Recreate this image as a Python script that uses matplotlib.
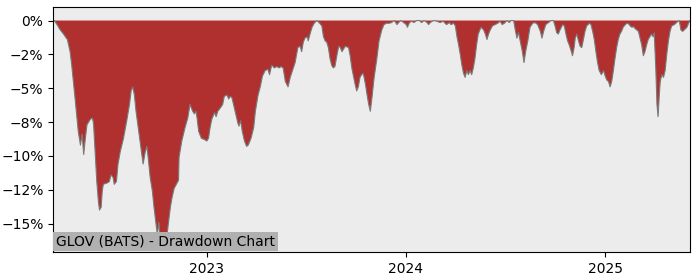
import matplotlib
matplotlib.use('Agg')
import matplotlib.pyplot as plt
import matplotlib.dates as mdates
from matplotlib.ticker import FuncFormatter
import numpy as np

# drawdown series (days since start, percent)
start = np.datetime64('2022-03-25')
days = [0, 2, 7, 13, 19, 24, 26, 31, 34, 40, 46, 50, 53, 56, 59, 62, 68, 72, 74, 77,
        80, 83, 85, 88, 90, 92, 99, 103, 106, 110, 112, 116, 119, 123, 129, 135, 140, 143, 146, 149,
        152, 157, 161, 165, 169, 172, 175, 178, 182, 185, 189, 191, 194, 196, 199, 202, 206, 209, 212, 215,
        218, 222, 226, 230, 231, 236, 242, 247, 251, 256, 259, 262, 264, 267, 272, 278, 282, 285, 288, 291,
        296, 299, 302, 306, 311, 314, 319, 322, 325, 328, 331, 335, 339, 341, 344, 347, 351, 355, 358, 363,
        368, 371, 376, 380, 384, 389, 394, 397, 401, 406, 410, 415, 418, 422, 426, 431, 435, 439, 444, 449,
        453, 456, 459, 462, 466, 468, 472, 475, 479, 484, 489, 493, 496, 499, 502, 505, 508, 511, 514, 517,
        521, 524, 527, 530, 533, 536, 542, 545, 548, 551, 554, 557, 560, 563, 566, 569, 573, 576, 579, 582,
        585, 589, 594, 598, 603, 607, 612, 617, 621, 626, 631, 634, 638, 643, 648, 650, 654, 658, 662, 667,
        672, 676, 681, 686, 689, 692, 698, 704, 710, 716, 719, 722, 727, 730, 735, 738, 741, 744, 747, 750,
        753, 756, 759, 762, 765, 768, 771, 774, 777, 780, 785, 790, 793, 796, 799, 802, 806, 811, 816, 820,
        824, 828, 833, 837, 840, 845, 848, 851, 854, 857, 861, 864, 867, 871, 875, 880, 884, 889, 894, 897,
        900, 904, 909, 914, 918, 921, 924, 927, 930, 935, 938, 941, 944, 947, 951, 953, 956, 958, 961, 964,
        967, 970, 973, 976, 979, 984, 987, 990, 993, 996, 999, 1002, 1006, 1010, 1013, 1016, 1019, 1022, 1025, 1028,
        1031, 1034, 1037, 1040, 1043, 1046, 1050, 1053, 1056, 1059, 1062, 1065, 1068, 1071, 1074, 1077, 1080, 1083, 1086, 1089,
        1092, 1095, 1098, 1101, 1103, 1106, 1108, 1110, 1112, 1114, 1117, 1120, 1123, 1126, 1129, 1132, 1135, 1140, 1144, 1149,
        1152, 1155, 1158, 1163, 1166, 1169]
drawdown = [0, 0, -0.3, -0.7, -1.0, -1.3, -1.4, -2.3, -3.3, -5.7, -8.2, -9.2, -8.4, -9.9, -8.7, -7.7, -7.3, -7.2, -7.6, -9.7,
            -11.9, -13.4, -14.0, -13.8, -12.6, -12.1, -12.0, -11.9, -11.4, -11.6, -12.1, -11.9, -10.6, -9.7, -8.7, -7.4, -6.2, -5.2, -4.9, -5.5,
            -6.7, -8.2, -9.4, -10.6, -9.7, -9.3, -10.4, -11.6, -12.6, -13.8, -15.1, -15.8, -14.9, -16.1, -16.8, -16.6, -16.1, -15.8, -14.8, -13.8,
            -13.1, -12.4, -12.1, -11.8, -10.1, -8.9, -7.9, -7.2, -6.2, -6.7, -6.9, -6.7, -7.2, -8.2, -8.7, -8.8, -8.9, -8.7, -7.9, -7.3,
            -6.8, -7.1, -6.7, -6.5, -6.2, -5.6, -5.5, -5.8, -5.6, -5.7, -6.2, -6.9, -7.6, -7.8, -7.4, -8.2, -8.9, -9.3, -9.2, -8.7,
            -7.9, -6.7, -5.5, -4.9, -4.1, -3.7, -3.6, -4.0, -3.3, -3.5, -3.4, -3.5, -3.4, -3.5, -4.5, -4.9, -4.2, -3.7, -3.1, -2.0,
            -1.9, -2.3, -1.6, -1.3, -1.2, -1.5, -0.9, -0.5, -0.2, 0, -0.2, -0.4, -1.2, -1.5, -1.6, -2.0, -2.8, -3.3, -3.5, -3.4,
            -2.5, -1.9, -2.0, -2.3, -2.1, -1.9, -2.0, -2.6, -3.5, -4.1, -4.7, -5.2, -4.9, -4.2, -4.0, -3.9, -4.7, -5.5, -6.2, -6.7,
            -5.7, -4.2, -2.8, -1.5, -0.7, -0.3, -0.2, -0.2, -0.15, 0, -0.3, -0.15, 0, -0.15, -0.3, -0.5, -0.15, -0.05, -0.15, 0,
            0, -0.15, 0, -0.15, -0.3, -0.15, 0, -0.05, -0.15, -0.05, -0.2, -0.3, -0.15, -0.3, -0.2, -0.4, -1.2, -1.8, -2.5, -3.3,
            -3.9, -4.2, -3.7, -4.0, -3.7, -4.0, -3.5, -2.8, -1.8, -1.0, -0.5, -0.7, -1.0, -1.4, -1.0, -0.7, -0.4, -0.3, -0.2, -0.05,
            -0.3, -0.2, 0, -0.15, 0, 0, -0.7, -1.3, -0.9, -1.5, -2.3, -3.1, -2.3, -1.5, -0.5, -0.2, -0.15, -0.3, -0.8, -1.3,
            -0.8, -0.3, -0.15, 0, 0, -0.4, -0.9, -1.0, -0.7, -0.3, -0.4, -1.0, -1.5, -1.8, -2.3, -2.6, -2.0, -1.3, -1.0, -1.5,
            -1.9, -2.0, -1.4, -0.8, -0.4, -0.2, -0.3, -0.8, -1.4, -2.3, -3.1, -3.7, -4.0, -3.7, -4.1, -4.4, -4.5, -4.9, -4.5, -3.7,
            -2.8, -2.0, -1.4, -1.0, -0.8, -0.5, -0.3, -0.2, -0.25, -0.4, -0.5, -0.45, -0.6, -0.7, -0.8, -1.3, -1.8, -2.6, -2.3, -1.8,
            -1.4, -1.2, -1.0, -1.2, -0.9, -3.7, -6.2, -7.1, -5.7, -4.5, -4.0, -4.2, -3.7, -2.5, -1.5, -0.8, -0.4, -0.3, -0.15, 0,
            -0.7, -0.8, -0.7, -0.5, -0.2, 0]
label = 'GLOV (BATS) - Drawdown Chart'

dates = start + np.array(days).astype('timedelta64[D]')
dd = np.array(drawdown)

fig = plt.figure(figsize=(7, 2.8), dpi=100)
ax = fig.add_axes([0.076, 0.1, 0.91, 0.875])
ax.set_facecolor('#ececec')

ax.fill_between(dates, dd, 0, facecolor='#b03030', edgecolor='none')
ax.plot(dates, dd, color='#7a7a7a', lw=0.8)

ax.set_xlim(dates[0], dates[-1])
ax.set_ylim(-17.1, 1.0)
ax.set_yticks([0, -2.5, -5, -7.5, -10, -12.5, -15])
ax.yaxis.set_major_formatter(FuncFormatter(lambda v, p: '{:.0f}%'.format(v).replace('-', '\u2212')))
ax.xaxis.set_major_locator(mdates.YearLocator())
ax.xaxis.set_major_formatter(mdates.DateFormatter('%Y'))
ax.tick_params(labelsize=10)

ax.text(0.004, 0.015, label, transform=ax.transAxes, fontsize=10, va='bottom', ha='left',
        bbox=dict(facecolor='#b0b0b0', edgecolor='none', pad=2))

fig.savefig('out.png', dpi=100)
